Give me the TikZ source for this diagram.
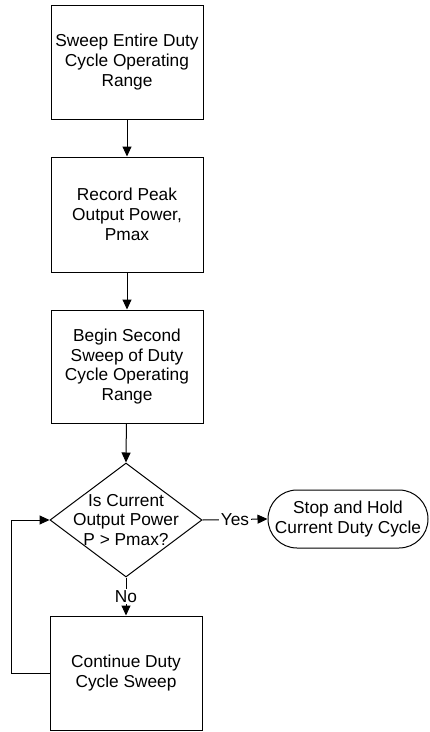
\documentclass[tikz,border=0pt]{standalone}
\usepackage{fontspec}
\setmainfont{Liberation Sans}
\usetikzlibrary{arrows.meta,shapes.geometric}
\begin{document}
\begin{tikzpicture}[x=1pt,y=-1pt,
  every node/.style={font=\fontsize{17.3}{19.8}\selectfont, align=center},
  stepbox/.style={draw, line width=1pt, minimum width=152pt, inner sep=0pt},
  decision/.style={draw, shape=diamond, line width=1pt, minimum width=152pt, minimum height=114pt, inner sep=0pt},
  terminal/.style={draw, line width=1pt, rounded corners=29pt, minimum width=160pt, minimum height=58pt, inner sep=0pt},
  flow/.style={draw, line width=1pt, -{Triangle[length=10pt,width=9pt]}},
  lbl/.style={fill=white, inner sep=1.5pt}]
  \useasboundingbox (0,0) rectangle (430,732);

  % process steps
  \node[stepbox, minimum height=114pt] (sweep) at (127,62) {Sweep Entire Duty\\Cycle Operating\\Range};
  \node[stepbox, minimum height=115pt] (record) at (127,214.5) {Record Peak\\Output Power,\\Pmax};
  \node[stepbox, minimum height=113pt] (second) at (127,366.5) {Begin Second\\Sweep of Duty\\Cycle Operating\\Range};

  % decision
  \node[decision] (dec) at (126,520) {};
  \node (dectext) at (dec.center) {Is Current\\Output Power\\P > Pmax?};

  % outcomes
  \node[terminal] (stop) at (348,519) {Stop and Hold\\Current Duty Cycle};
  \node[stepbox, minimum height=114pt] (cont) at (126,673) {Continue Duty\\Cycle Sweep};

  % connectors
  \draw[flow] (sweep) -- (record);
  \draw[flow] (record) -- (second);
  \draw[flow] (second) -- (dec.north);
  \draw[flow] (dec.east) -- node[lbl] {Yes} (stop.west);
  \draw[flow] (dec.south) -- node[lbl] {No} (cont.north);
  \draw[flow] (cont.west) -- ++(-38,0) |- (dec.west);
\end{tikzpicture}
\end{document}
